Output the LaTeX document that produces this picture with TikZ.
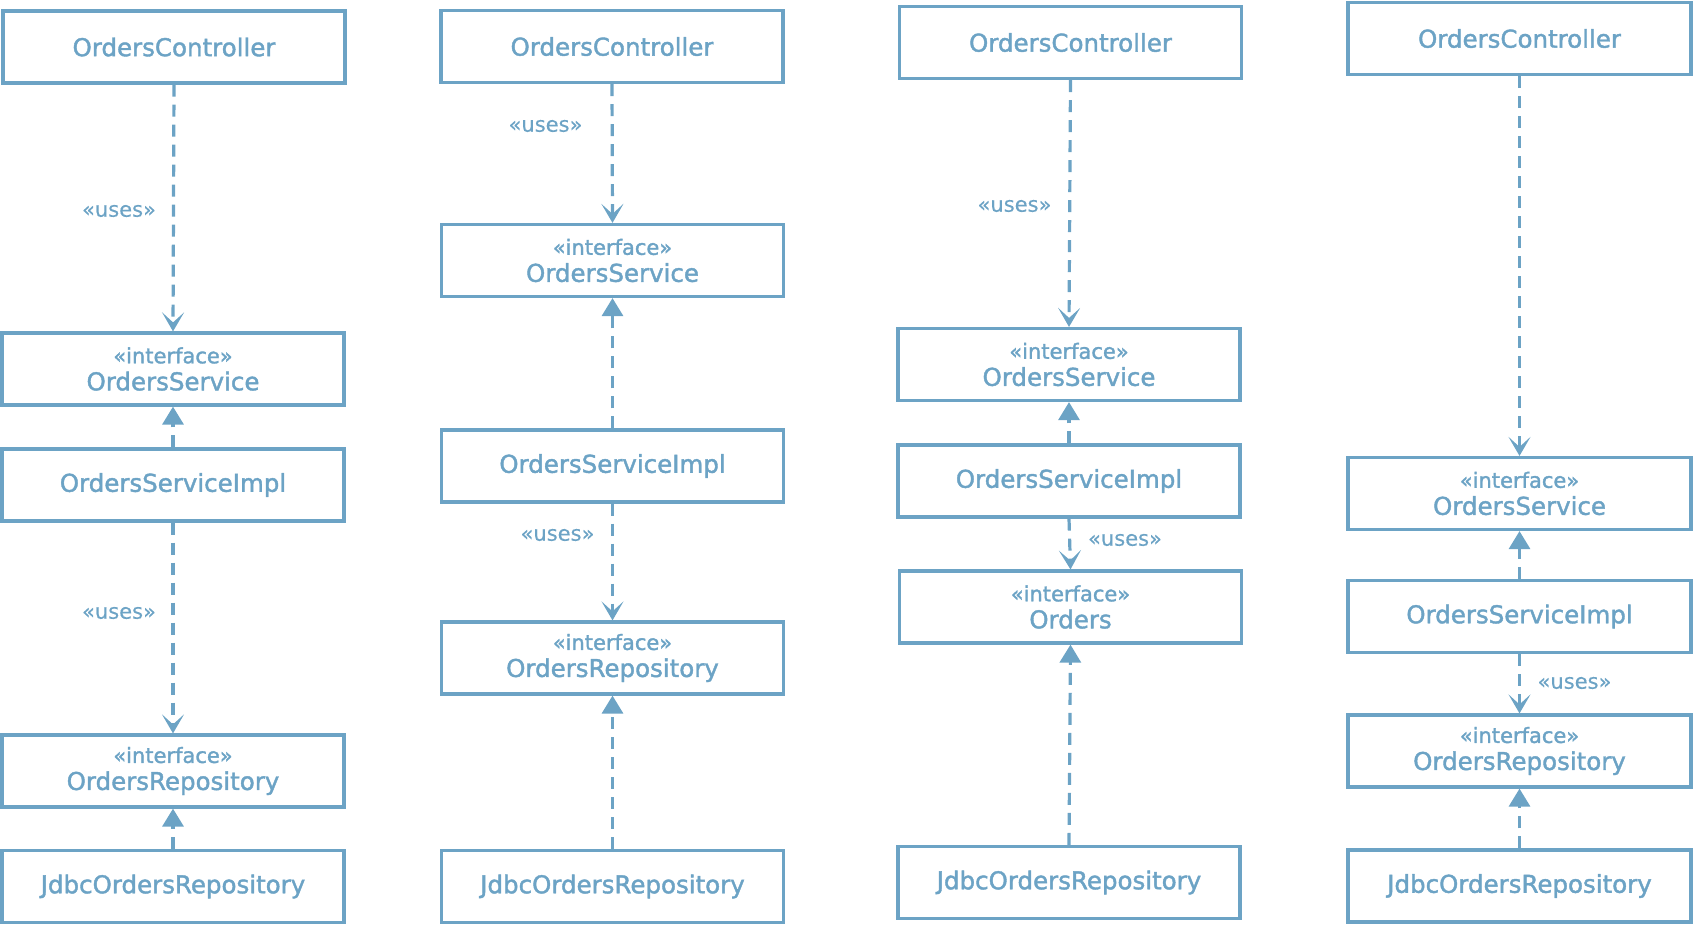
\documentclass[tikz,border=0pt]{standalone}
\usepackage{fontspec}
\setmainfont{DejaVu Sans}[FakeBold=0.3]
\newfontfamily\boxfont{DejaVu Sans}[FakeBold=1.6]
\usetikzlibrary{arrows.meta}
\definecolor{umlblue}{RGB}{108,163,197}
\tikzset{
  box/.style={draw=umlblue, line width=3.2pt, text=umlblue, minimum width=342pt, minimum height=72pt,
    inner sep=0pt, align=center, font=\boxfont\fontsize{24.5}{27}\selectfont},
  uses/.style={draw=umlblue, line width=3.2pt, dash pattern=on 12pt off 8pt,
    -{Stealth[length=19pt,width=22pt,inset=10pt]}},
  realizes/.style={draw=umlblue, line width=3.2pt, dash pattern=on 12pt off 8pt,
    -{Triangle[length=18pt,width=21pt]}},
  lbl/.style={text=umlblue, font=\fontsize{21}{22}\selectfont, inner sep=0pt}
}
\newcommand{\ifc}[1]{{\fontsize{21}{27}\selectfont «interface»}\\#1}
\begin{document}
\begin{tikzpicture}[x=1pt,y=-1pt]
\useasboundingbox (0,0) rectangle (1694,926);
% column 1
\node[box] (c1) at (174,47) {OrdersController};
\node[box] (s1) at (173,369) {\ifc{OrdersService}};
\node[box] (i1) at (173,485) {OrdersServiceImpl};
\node[box] (r1) at (173,771) {\ifc{OrdersRepository}};
\node[box] (j1) at (173,886.5) {JdbcOrdersRepository};
\draw[uses] (c1.south) -- (s1.north);
\draw[realizes] (i1.north) -- (s1.south);
\draw[uses] (i1.south) -- (r1.north);
\draw[realizes] (j1.north) -- (r1.south);
\node[lbl] (u1a) at (119,211) {«uses»};
\node[lbl] (u1b) at (119,613) {«uses»};
% column 2
\node[box] (c2) at (612,46.5) {OrdersController};
\node[box] (s2) at (612.5,260.5) {\ifc{OrdersService}};
\node[box] (i2) at (612.5,466) {OrdersServiceImpl};
\node[box] (r2) at (612.5,658) {\ifc{OrdersRepository}};
\node[box] (j2) at (612.5,886.5) {JdbcOrdersRepository};
\draw[uses] (c2.south) -- (s2.north);
\draw[realizes] (i2.north) -- (s2.south);
\draw[uses] (i2.south) -- (r2.north);
\draw[realizes] (j2.north) -- (r2.south);
\node[lbl] (u2a) at (545.5,126) {«uses»};
\node[lbl] (u2b) at (557.5,535) {«uses»};
% column 3
\node[box] (c3) at (1070.5,42.5) {OrdersController};
\node[box] (s3) at (1069,364.5) {\ifc{OrdersService}};
\node[box] (i3) at (1069,481) {OrdersServiceImpl};
\node[box] (o3) at (1070.5,607) {\ifc{Orders}};
\node[box] (j3) at (1069,882.5) {JdbcOrdersRepository};
\draw[uses] (c3.south) -- (s3.north);
\draw[realizes] (i3.north) -- (s3.south);
\draw[uses] (i3.south) -- (o3.north);
\draw[realizes] (j3.north) -- (o3.south);
\node[lbl] (u3a) at (1014.5,206) {«uses»};
\node[lbl] (u3b) at (1125,540) {«uses»};
% column 4
\node[box, minimum width=343pt] (c4) at (1519.5,38.5) {OrdersController};
\node[box, minimum width=343pt] (s4) at (1519.5,493.5) {\ifc{OrdersService}};
\node[box, minimum width=343pt] (i4) at (1519.5,616.5) {OrdersServiceImpl};
\node[box, minimum width=343pt] (r4) at (1519.5,751) {\ifc{OrdersRepository}};
\node[box, minimum width=343pt] (j4) at (1519.5,886) {JdbcOrdersRepository};
\draw[uses] (c4.south) -- (s4.north);
\draw[realizes] (i4.north) -- (s4.south);
\draw[uses] (i4.south) -- (r4.north);
\draw[realizes] (j4.north) -- (r4.south);
\node[lbl] (u4b) at (1574.5,683) {«uses»};
\end{tikzpicture}
\end{document}
